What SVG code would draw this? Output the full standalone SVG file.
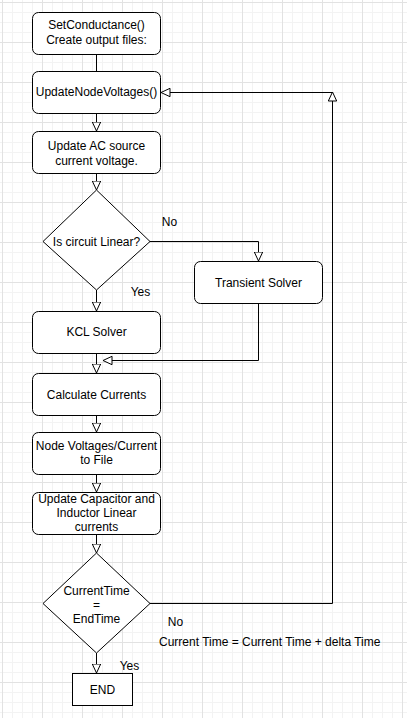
<svg xmlns="http://www.w3.org/2000/svg" width="407" height="718" viewBox="0 0 407 718">
<style>
.box{fill:#fff;stroke:#000;stroke-width:1}
.ln{fill:none;stroke:#000;stroke-width:1}
text{font-family:"Liberation Sans",Arial,sans-serif;font-size:12px;fill:#000;text-anchor:middle}
.lft{text-anchor:start}
</style>
<defs>
<pattern id="grid" x="2" y="2" width="40" height="40" patternUnits="userSpaceOnUse">
<path d="M10.5,0V40M20.5,0V40M30.5,0V40M0,10.5H40M0,20.5H40M0,30.5H40" fill="none" stroke="#f3f3f3" stroke-width="1"/>
<path d="M0.5,0V40M0,0.5H40" fill="none" stroke="#e2e2e2" stroke-width="1"/>
</pattern>
<marker id="arr" viewBox="0 0 10 10" refX="9.5" refY="5" markerWidth="10" markerHeight="10" markerUnits="userSpaceOnUse" orient="auto">
<path d="M0.5,0.8L9.5,5L0.5,9.2Z" fill="#fff" stroke="#000" stroke-width="1"/>
</marker>
</defs>
<rect width="407" height="718" fill="#fff"/>
<rect width="407" height="718" fill="url(#grid)"/>
<g id="connectors">
<path class="ln" d="M96.5,54V71"/>
<path class="ln" d="M96.5,114V131" marker-end="url(#arr)"/>
<path class="ln" d="M96.5,174V190" marker-end="url(#arr)"/>
<path class="ln" d="M96.5,290V311" marker-end="url(#arr)"/>
<path class="ln" d="M150,241.5H258.5V261" marker-end="url(#arr)"/>
<path class="ln" d="M96.5,353V373" marker-end="url(#arr)"/>
<path class="ln" d="M258.5,304V360.5H103" marker-end="url(#arr)"/>
<path class="ln" d="M96.5,415V432" marker-end="url(#arr)"/>
<path class="ln" d="M96.5,474V492" marker-end="url(#arr)"/>
<path class="ln" d="M96.5,534V553" marker-end="url(#arr)"/>
<path class="ln" d="M96.5,653V673" marker-end="url(#arr)"/>
<path class="ln" d="M150,603.5H332.5V92" marker-end="url(#arr)"/>
<path class="ln" d="M332.5,92.5H161" marker-end="url(#arr)"/>
</g>
<g id="setConductance">
<rect class="box" x="32.5" y="12.5" width="128" height="42" rx="6"/>
<text x="96.5" y="29">SetConductance()</text>
<text x="96.5" y="43.5">Create output files:</text>
</g>
<g id="updateNodeVoltages">
<rect class="box" x="32.5" y="71.5" width="128" height="42" rx="6"/>
<text x="96.5" y="96">UpdateNodeVoltages()</text>
</g>
<g id="updateAC">
<rect class="box" x="32.5" y="131.5" width="128" height="42" rx="6"/>
<text x="96.5" y="150">Update AC source</text>
<text x="96.5" y="164.5">current voltage.</text>
</g>
<g id="isLinear">
<path class="box" d="M96.5,190L150,241.5L96.5,290L43,241.5Z"/>
<text x="96.5" y="246">Is circuit Linear?</text>
</g>
<g id="transientSolver">
<rect class="box" x="194.5" y="261.5" width="128" height="42" rx="6"/>
<text x="258.5" y="286.5">Transient Solver</text>
</g>
<g id="kclSolver">
<rect class="box" x="32.5" y="311.5" width="128" height="42" rx="6"/>
<text x="96.5" y="336">KCL Solver</text>
</g>
<g id="calcCurrents">
<rect class="box" x="32.5" y="373.5" width="128" height="42" rx="6"/>
<text x="96.5" y="398.5">Calculate Currents</text>
</g>
<g id="nodeVoltagesToFile">
<rect class="box" x="32.5" y="432.5" width="128" height="42" rx="6"/>
<text x="96.5" y="450">Node Voltages/Current</text>
<text x="96.5" y="463.5">to File</text>
</g>
<g id="updateCapInd">
<rect class="box" x="32.5" y="492.5" width="128" height="42" rx="6"/>
<text x="96.5" y="503">Update Capacitor and</text>
<text x="96.5" y="517">Inductor Linear</text>
<text x="96.5" y="530.5">currents</text>
</g>
<g id="timeCheck">
<path class="box" d="M96.5,553L150,603.5L96.5,653L43,603.5Z"/>
<text x="96.5" y="595">CurrentTime</text>
<text x="96.5" y="609">=</text>
<text x="96.5" y="622.5">EndTime</text>
</g>
<g id="end">
<rect class="box" x="72.5" y="673.5" width="60" height="32"/>
<text x="102.5" y="693.5">END</text>
</g>
<g id="labels">
<text x="169.5" y="226">No</text>
<text x="140.5" y="295.5">Yes</text>
<text x="175.5" y="626">No</text>
<text class="lft" x="159" y="645.5">Current Time = Current Time + delta Time</text>
<text x="129.5" y="669.5">Yes</text>
</g>
</svg>
